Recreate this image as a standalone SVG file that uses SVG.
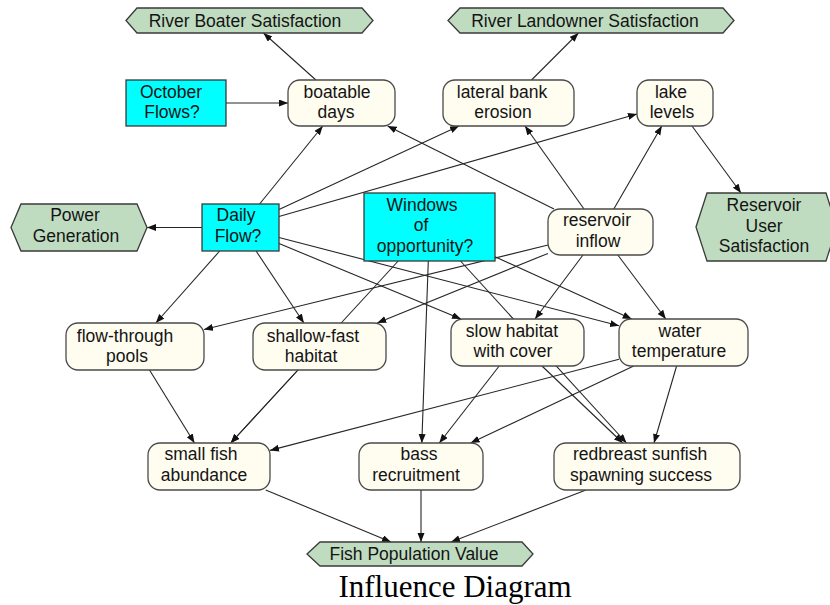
<svg xmlns="http://www.w3.org/2000/svg" width="830" height="605" viewBox="0 0 830 605">
<style>
.t{font-family:"Liberation Sans",Arial,sans-serif;font-size:17.5px;fill:#141414;text-anchor:middle}
.dec{fill:#00FFFF;stroke:#3a3a3a;stroke-width:1.3}
.obj{fill:#C0DCC0;stroke:#3a3a3a;stroke-width:1.3}
.var{fill:#FFFCF0;stroke:#4a4a4a;stroke-width:1.3}
.c line{stroke:#262626;stroke-width:1.1;marker-end:url(#ah)}
.c line.n{marker-end:none}
.title{font-family:"Liberation Serif","Times New Roman",serif;font-size:31px;fill:#000;text-anchor:middle}
</style>
<defs>
<marker id="ah" markerUnits="userSpaceOnUse" markerWidth="10" markerHeight="8" refX="9" refY="3.5" orient="auto">
<path d="M0,0 L9,3.5 L0,7 z" fill="#111"/>
</marker>
</defs>
<rect width="830" height="605" fill="#fff"/>
<g id="connectors" class="c">
<line x1="315.9" y1="80" x2="263.4" y2="33"/>
<line x1="226" y1="103" x2="288" y2="103"/>
<line x1="531.5" y1="80" x2="578.5" y2="33"/>
<line x1="259.6" y1="204" x2="322.8" y2="126"/>
<line x1="554" y1="209" x2="387.6" y2="126"/>
<line x1="279" y1="209.6" x2="459" y2="126"/>
<line x1="279" y1="216.5" x2="637" y2="114"/>
<line x1="584" y1="209" x2="525" y2="126"/>
<line x1="613.8" y1="209" x2="661.8" y2="126"/>
<line x1="692" y1="126" x2="741" y2="193"/>
<line x1="202" y1="227.5" x2="147" y2="227.5"/>
<line x1="219.7" y1="251" x2="155.8" y2="323"/>
<line x1="256.1" y1="251" x2="303.9" y2="323"/>
<line x1="548" y1="245" x2="204" y2="329.5"/>
<line x1="548" y1="253.4" x2="377.2" y2="323"/>
<line x1="279" y1="243.5" x2="461" y2="319"/>
<line x1="279" y1="237.5" x2="619" y2="325.8"/>
<line x1="495" y1="256.8" x2="631.7" y2="319"/>
<line x1="583" y1="255" x2="535" y2="319"/>
<line x1="617.8" y1="255" x2="665.8" y2="319"/>
<line x1="398.2" y1="261" x2="230.8" y2="443"/>
<line x1="428.3" y1="261" x2="421.8" y2="443"/>
<line x1="460.5" y1="261" x2="626.5" y2="443"/>
<line x1="149.5" y1="370" x2="194.5" y2="443"/>
<line x1="298" y1="370" x2="230.7" y2="443"/>
<line x1="499.2" y1="366" x2="439.3" y2="443"/>
<line x1="542" y1="366" x2="622.8" y2="443"/>
<line x1="619" y1="359.3" x2="270" y2="450.4"/>
<line x1="633.7" y1="366" x2="470.6" y2="443"/>
<line x1="676.6" y1="366" x2="654" y2="443"/>
<line x1="265.7" y1="490" x2="391" y2="542"/>
<line x1="421" y1="490" x2="421" y2="542"/>
<line x1="586" y1="490" x2="451" y2="542"/>
</g>
<g id="river_boater_satisfaction">
<polygon class="obj" points="126,20.5 137,8 362,8 373,20.5 362,33 137,33"/>
<text class="t" x="245" y="26.5">River Boater Satisfaction</text>
</g>
<g id="river_landowner_satisfaction">
<polygon class="obj" points="448,20.5 460,8 723,8 734,20.5 723,33 460,33"/>
<text class="t" x="585" y="26.5">River Landowner Satisfaction</text>
</g>
<g id="october_flows">
<rect class="dec" x="126" y="80" width="100" height="46"/>
<text class="t" x="171" y="98">October</text>
<text class="t" x="172" y="118">Flows?</text>
</g>
<g id="boatable_days">
<rect class="var" x="288" y="80" width="107" height="46" rx="12"/>
<text class="t" x="337" y="98">boatable</text>
<text class="t" x="336" y="118">days</text>
</g>
<g id="lateral_bank_erosion">
<rect class="var" x="443" y="80" width="131" height="46" rx="12"/>
<text class="t" x="502" y="98">lateral bank</text>
<text class="t" x="503" y="118">erosion</text>
</g>
<g id="lake_levels">
<rect class="var" x="637" y="80" width="76" height="46" rx="12"/>
<text class="t" x="671" y="98">lake</text>
<text class="t" x="672" y="118">levels</text>
</g>
<g id="power_generation">
<polygon class="obj" points="11,227.5 21,204 137,204 147,227.5 137,251 21,251"/>
<text class="t" x="75" y="221">Power</text>
<text class="t" x="76" y="242">Generation</text>
</g>
<g id="daily_flow">
<rect class="dec" x="202" y="204" width="77" height="47"/>
<text class="t" x="236" y="221">Daily</text>
<text class="t" x="238" y="242">Flow?</text>
</g>
<g id="windows_of_opportunity">
<rect class="dec" x="364" y="193" width="131" height="68"/>
<text class="t" x="422" y="211">Windows</text>
<text class="t" x="421" y="231">of</text>
<text class="t" x="425" y="252">opportunity?</text>
</g>
<g id="reservoir_inflow">
<rect class="var" x="548" y="209" width="105" height="46" rx="12"/>
<text class="t" x="597" y="226">reservoir</text>
<text class="t" x="598" y="247">inflow</text>
</g>
<g id="reservoir_user_satisfaction">
<polygon class="obj" points="696,227 707,193 826,193 837,227 826,261 707,261"/>
<text class="t" x="764" y="211">Reservoir</text>
<text class="t" x="764" y="232">User</text>
<text class="t" x="764" y="252">Satisfaction</text>
</g>
<g id="flow_through_pools">
<rect class="var" x="66" y="323" width="138" height="47" rx="12"/>
<text class="t" x="125" y="342">flow-through</text>
<text class="t" x="127" y="362">pools</text>
</g>
<g id="shallow_fast_habitat">
<rect class="var" x="253" y="323" width="133" height="47" rx="12"/>
<text class="t" x="313" y="342">shallow-fast</text>
<text class="t" x="311" y="362">habitat</text>
</g>
<g id="slow_habitat_with_cover">
<rect class="var" x="451" y="319" width="133" height="47" rx="12"/>
<text class="t" x="512" y="337">slow habitat</text>
<text class="t" x="513" y="357">with cover</text>
</g>
<g id="water_temperature">
<rect class="var" x="619" y="319" width="129" height="47" rx="12"/>
<text class="t" x="680" y="337">water</text>
<text class="t" x="679" y="357">temperature</text>
</g>
<g id="small_fish_abundance">
<rect class="var" x="148" y="443" width="122" height="47" rx="12"/>
<text class="t" x="201" y="460">small fish</text>
<text class="t" x="204" y="481">abundance</text>
</g>
<g id="bass_recruitment">
<rect class="var" x="359" y="443" width="124" height="47" rx="12"/>
<text class="t" x="419" y="460">bass</text>
<text class="t" x="416" y="481">recruitment</text>
</g>
<g id="redbreast_sunfish_spawning_success">
<rect class="var" x="554" y="443" width="186" height="47" rx="12"/>
<text class="t" x="640" y="460">redbreast sunfish</text>
<text class="t" x="641" y="481">spawning success</text>
</g>
<g id="fish_population_value">
<polygon class="obj" points="307,554 320,542 522,542 533,554 522,566 320,566"/>
<text class="t" x="414" y="560">Fish Population Value</text>
</g>
<text class="title" x="455" y="597">Influence Diagram</text>
</svg>
